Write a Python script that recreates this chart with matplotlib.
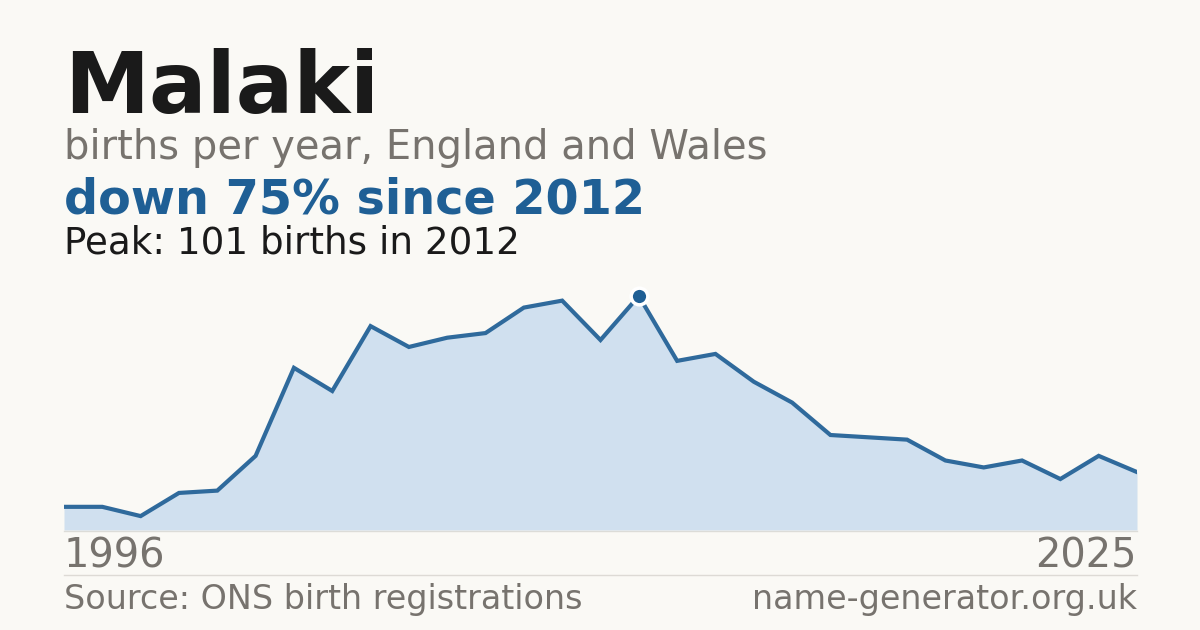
import numpy as np
import matplotlib.pyplot as plt

# births per year (first label 1996, last 2025)
births = [10, 10, 6, 16, 17, 32, 70, 60, 88, 79, 83, 85, 96, 99, 82, 101,
          73, 76, 64, 55, 41, 40, 39, 30, 27, 30, 22, 32, 25]
start_label = "1996"
end_label = "2025"
peak_value = 101
peak_year = 2012

bg = "#faf9f5"
blue = "#1f5f95"
line_blue = "#2f6a9c"
fill_blue = "#d0e0ef"
grey = "#77736e"

W, H = 1200, 630
fig = plt.figure(figsize=(12, 6.3), dpi=100, facecolor=bg)

def fy(px):
    return 1 - px / H

ax = fig.add_axes([64 / W, fy(530), (1137 - 64) / W, (530 - 280) / H])
ax.set_facecolor(bg)
x = np.arange(len(births))
ax.fill_between(x, births, 0, color=fill_blue, lw=0)
ax.plot(x, births, color=line_blue, lw=3.0, solid_joinstyle="miter")
pk = int(np.argmax(births))
ax.plot(pk, births[pk], "o", ms=12, color=blue, mec="white", mew=2.5, zorder=5)
ax.set_xlim(0, len(births) - 1)
ax.set_ylim(0, peak_value * 250 / 234)
ax.axis("off")

# baseline and separator
fig.add_artist(plt.Line2D([64 / W, 1137 / W], [fy(530.5), fy(530.5)], color="#dcdcd8", lw=1))
fig.add_artist(plt.Line2D([64 / W, 1137 / W], [fy(574.5), fy(574.5)], color="#dddad5", lw=1))

fig.text(64 / W, fy(113), "Malaki", fontsize=61.5, fontweight="bold", color="#1a1a1a", va="baseline")
fig.text(64 / W, fy(159), "births per year, England and Wales", fontsize=28.8, color=grey, va="baseline")
fig.text(64 / W, fy(214), "down 75% since 2012", fontsize=34.4, fontweight="bold", color=blue, va="baseline")
fig.text(64 / W, fy(253), f"Peak: {peak_value} births in {peak_year}", fontsize=26.8, color="#1a1a1a", va="baseline")

fig.text(64 / W, fy(568), start_label, fontsize=28.7, color=grey, va="baseline")
fig.text(1137 / W, fy(568), end_label, fontsize=28.7, color=grey, va="baseline", ha="right")
fig.text(64 / W, fy(609), "Source: ONS birth registrations", fontsize=24, color=grey, va="baseline")
fig.text(1137 / W, fy(609), "name-generator.org.uk", fontsize=24, color=grey, va="baseline", ha="right")

fig.savefig("out.png", dpi=100, facecolor=bg)
